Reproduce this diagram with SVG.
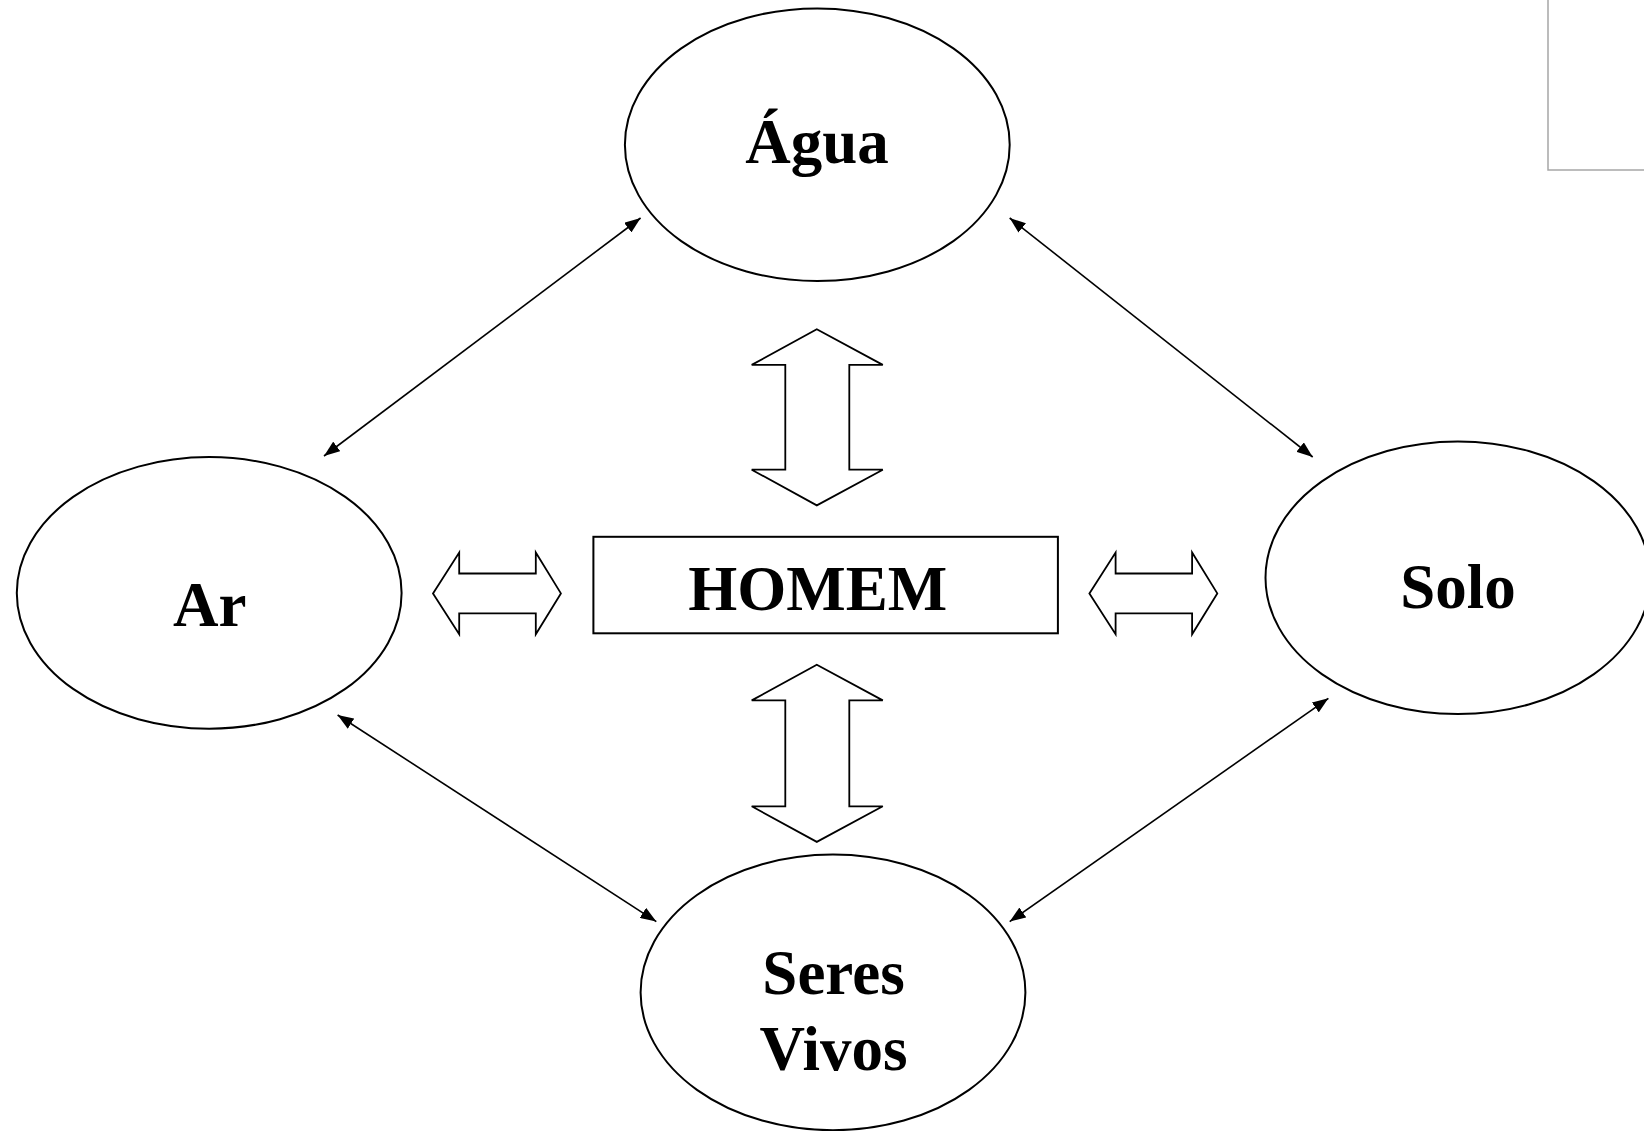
<svg xmlns="http://www.w3.org/2000/svg" width="1644" height="1131" viewBox="0 0 1644 1131">
<style>
.node{fill:#fff;stroke:#000;stroke-width:2}
.lbl{font-family:"Liberation Serif","Times New Roman",serif;font-weight:bold;font-size:63px;fill:#000;text-anchor:middle}
.conn{stroke:#000;stroke-width:1.6;fill:none;marker-start:url(#ah);marker-end:url(#ah)}
.block{fill:#fff;stroke:#000;stroke-width:1.8;stroke-linejoin:miter}
</style>
<defs>
<marker id="ah" viewBox="0 0 16 12" refX="16" refY="6" markerWidth="16" markerHeight="12" markerUnits="userSpaceOnUse" orient="auto-start-reverse">
<path d="M0,0 L16,6 L0,12 Z" fill="#000"/>
</marker>
</defs>
<rect x="0" y="0" width="1644" height="1131" fill="#fff"/>
<rect x="1548" y="-5" width="110" height="175" fill="none" stroke="#a6a6a6" stroke-width="1.5"/>
<g id="connectors">
<line class="conn" x1="324" y1="456" x2="640.6" y2="218"/>
<line class="conn" x1="1009.7" y1="218" x2="1312.7" y2="457"/>
<line class="conn" x1="337.6" y1="715" x2="656.3" y2="921.6"/>
<line class="conn" x1="1328.4" y1="698.3" x2="1009.7" y2="921.6"/>
<path id="block-top" class="block" d="M816.8,329.2 L882.8,364.9 L849.3,364.9 L849.3,469.7 L882.8,469.7 L816.8,505.4 L751.7,469.7 L785.3,469.7 L785.3,364.9 L751.7,364.9 Z"/>
<path id="block-bottom" class="block" d="M816.8,664.7 L882.8,700.4 L849.3,700.4 L849.3,806.3 L882.8,806.3 L816.8,841.9 L751.7,806.3 L785.3,806.3 L785.3,700.4 L751.7,700.4 Z"/>
<path id="block-left" class="block" d="M433,593.4 L459.2,552.5 L459.2,573.5 L535.8,573.5 L535.8,552.5 L560.9,593.4 L535.8,634.3 L535.8,613.4 L459.2,613.4 L459.2,634.3 Z"/>
<path id="block-right" class="block" d="M1089.4,593.4 L1115.6,552.5 L1115.6,573.5 L1192.1,573.5 L1192.1,552.5 L1217.3,593.4 L1192.1,634.3 L1192.1,613.4 L1115.6,613.4 L1115.6,634.3 Z"/>
</g>
<g id="agua">
<ellipse class="node" cx="817.3" cy="144.7" rx="192.4" ry="136.3"/>
<text class="lbl" x="817" y="162.5">Água</text>
</g>
<g id="ar">
<ellipse class="node" cx="209.2" cy="592.9" rx="192.4" ry="135.8"/>
<text class="lbl" x="209.7" y="626">Ar</text>
</g>
<g id="homem">
<rect class="node" x="593.4" y="536.8" width="464.5" height="96.5"/>
<text class="lbl" x="817.8" y="610.2">HOMEM</text>
</g>
<g id="solo">
<ellipse class="node" cx="1457.9" cy="577.7" rx="192.4" ry="136.3"/>
<text class="lbl" x="1457.9" y="608">Solo</text>
</g>
<g id="seres-vivos">
<ellipse class="node" cx="833" cy="992.4" rx="192.4" ry="137.8"/>
<text class="lbl" x="833.5" y="994">Seres</text>
<text class="lbl" x="833.5" y="1069.5">Vivos</text>
</g>
</svg>
